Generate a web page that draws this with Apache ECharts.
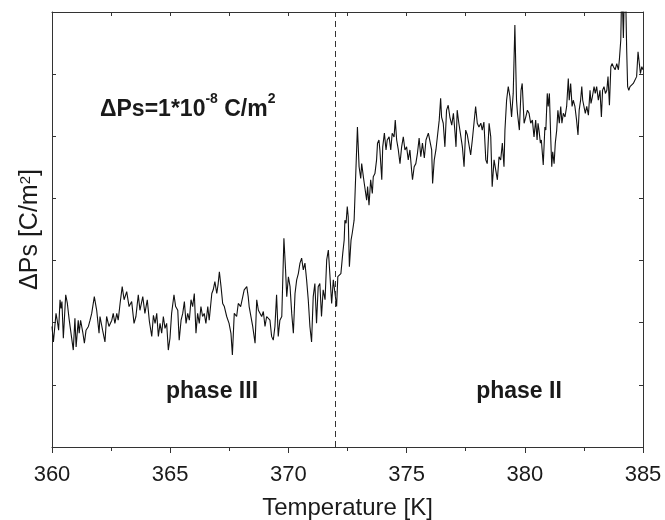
<!DOCTYPE html>
<html>
<head>
<meta charset="utf-8">
<script src="https://cdn.jsdelivr.net/npm/echarts@6/dist/echarts.min.js"></script>
<style>
html,body{margin:0;padding:0;background:#fff;}
#chart{width:665px;height:520px;}
</style>
</head>
<body>
<div id="chart"></div>
<script>
// Temperature (K) and ΔPs (arbitrary units, 1 unit = 1e-8 C/m^2 tick step)
var temperature = [
360.00,360.06,360.17,360.22,360.28,360.34,360.38,360.42,360.48,360.58,360.65,360.72,360.79,360.90,360.97,361.02,361.11,361.15,361.21,361.30,
361.37,361.44,361.54,361.61,361.68,361.79,361.89,361.99,362.03,362.14,362.24,362.31,362.41,362.53,362.59,362.66,362.74,362.80,362.88,362.97,
363.05,363.16,363.26,363.37,363.47,363.55,363.65,363.72,363.84,363.93,364.03,364.12,364.22,364.29,364.36,364.43,364.50,364.57,364.64,364.71,
364.78,364.85,364.92,364.99,365.06,365.16,365.23,365.32,365.38,365.46,365.53,365.60,365.67,365.74,365.81,365.88,365.95,366.02,366.09,366.16,
366.23,366.30,366.37,366.44,366.51,366.59,366.65,366.76,366.82,366.89,366.97,367.03,367.08,367.15,367.22,367.29,367.39,367.49,367.57,367.63,
367.71,367.81,367.88,367.98,368.07,368.13,368.24,368.30,368.34,368.41,368.49,368.59,368.66,368.73,368.80,368.87,368.94,369.01,369.08,369.15,
369.22,369.29,369.36,369.43,369.50,369.57,369.64,369.72,369.81,369.88,369.93,370.00,370.07,370.14,370.21,370.28,370.35,370.42,370.49,370.56,
370.63,370.70,370.77,370.84,370.91,370.98,371.05,371.12,371.19,371.26,371.33,371.40,371.47,371.55,371.62,371.69,371.76,371.83,371.90,371.97,
372.04,372.09,372.15,372.22,372.30,372.36,372.39,372.44,372.49,372.53,372.58,372.65,372.70,372.78,372.85,372.92,372.99,373.06,373.10,373.17,
373.21,373.27,373.31,373.35,373.41,373.48,373.55,373.59,373.66,373.73,373.77,373.83,373.87,373.95,373.99,374.06,374.13,374.18,374.26,374.33,
374.39,374.47,374.52,374.58,374.65,374.72,374.79,374.86,374.93,375.00,375.07,375.14,375.21,375.25,375.32,375.39,375.46,375.53,375.60,375.67,
375.75,375.82,375.92,375.99,376.06,376.10,376.17,376.24,376.31,376.38,376.44,376.48,376.55,376.62,376.69,376.76,376.83,376.91,376.98,377.05,
377.09,377.14,377.21,377.29,377.36,377.43,377.50,377.57,377.64,377.71,377.78,377.85,377.92,377.99,378.06,378.14,378.20,378.27,378.35,378.41,
378.49,378.56,378.62,378.70,378.77,378.84,378.91,378.98,379.05,379.12,379.16,379.23,379.30,379.37,379.44,379.51,379.58,379.65,379.69,379.77,
379.84,379.89,379.97,380.04,380.11,380.18,380.25,380.32,380.39,380.46,380.52,380.56,380.60,380.66,380.70,380.78,380.85,380.89,380.95,380.99,
381.04,381.10,381.14,381.18,381.24,381.29,381.35,381.40,381.46,381.52,381.57,381.63,381.70,381.77,381.84,381.88,381.94,382.00,382.05,382.12,
382.19,382.25,382.30,382.36,382.41,382.45,382.50,382.56,382.62,382.69,382.76,382.80,382.86,382.93,382.98,383.04,383.11,383.18,383.24,383.29,
383.35,383.41,383.47,383.52,383.58,383.64,383.69,383.75,383.82,383.89,383.96,384.00,384.06,384.10,384.14,384.17,384.21,384.27,384.31,384.35,
384.40,384.45,384.52,384.59,384.66,384.73,384.79,384.83,384.89,384.95,385.00
];
var deltaPs = [
1.94,1.69,2.15,2.04,1.88,2.37,2.23,2.34,1.75,2.45,2.31,2.07,2.04,1.56,2.07,1.61,2.04,1.83,2.04,1.85,
1.67,1.88,1.94,2.04,2.15,2.42,2.20,1.83,2.10,1.88,1.69,2.10,1.94,2.04,2.15,1.99,2.15,2.04,2.31,2.58,
2.37,2.50,2.26,2.34,1.99,2.10,2.45,2.20,2.42,2.15,2.37,2.02,1.78,2.12,1.99,2.15,1.78,1.99,1.83,2.10,
1.91,1.99,1.56,1.75,2.15,2.45,2.26,2.20,1.72,2.04,2.15,2.34,1.99,2.15,2.04,2.37,2.26,2.47,1.83,2.15,
1.99,2.26,2.10,2.15,1.99,2.26,2.04,2.47,2.53,2.66,2.47,2.63,2.82,2.58,2.31,2.26,2.10,1.99,1.83,1.48,
2.15,2.10,2.31,2.26,2.42,2.53,2.58,2.42,2.26,2.26,1.94,1.67,2.37,2.20,2.23,2.10,2.18,1.94,2.10,2.12,
2.04,1.78,1.72,1.94,2.45,1.78,2.04,2.10,3.36,2.85,2.42,2.74,2.58,2.15,1.83,2.47,2.69,2.79,2.96,3.04,
2.85,2.96,2.69,2.37,1.94,1.69,2.42,2.63,1.99,2.58,2.63,2.10,2.53,2.37,3.01,3.17,2.74,2.31,2.69,2.69,
2.26,2.74,2.74,2.79,3.12,3.33,3.65,3.60,3.87,3.71,2.90,3.33,3.44,3.65,4.40,5.15,4.51,4.32,4.56,4.35,
4.24,4.08,3.97,4.19,3.89,4.30,4.08,4.35,4.40,4.62,4.89,4.94,4.78,4.30,4.83,5.05,4.78,4.94,4.99,4.78,
5.05,4.99,5.26,4.94,4.78,4.56,4.83,4.99,4.78,4.83,4.62,4.78,4.46,4.30,4.51,4.56,4.73,4.97,4.67,4.89,
4.65,4.94,5.05,5.07,4.78,4.24,4.62,4.78,5.02,5.26,5.61,5.31,5.21,4.83,5.42,5.50,5.31,5.18,5.37,5.05,
4.83,5.42,5.21,5.18,4.83,4.51,5.10,5.02,4.99,4.70,4.94,5.21,5.48,5.21,5.15,5.21,5.10,5.23,4.62,4.56,
5.21,4.99,4.19,4.62,4.62,4.30,4.67,4.62,4.89,4.51,5.10,5.58,5.80,5.64,5.31,5.69,6.79,5.58,5.37,5.10,
5.74,5.85,5.21,5.31,5.42,5.37,5.21,5.26,4.99,5.26,4.94,5.21,5.10,4.89,4.94,4.54,5.15,5.10,5.69,5.48,
5.69,4.94,4.51,4.75,4.56,4.89,5.10,5.42,5.21,5.48,5.21,5.37,5.31,5.48,5.93,5.58,5.85,5.48,5.58,5.48,
5.26,5.02,5.42,5.58,5.80,5.58,5.58,5.37,5.48,5.34,5.74,5.53,5.64,5.80,5.69,5.80,5.58,5.74,5.31,5.74,
5.80,5.69,5.74,5.96,5.50,6.12,6.17,6.12,6.07,6.17,6.07,6.23,6.55,7.40,7.00,6.58,7.30,7.20,6.39,5.80,
5.74,5.80,5.80,5.85,5.88,5.96,6.36,6.33,6.01,6.12,6.07
];
var transitionT = 372;
var xRange = [360, 385];
var yRange = [0, 7];
var xAxisTitle = 'Temperature [K]';
var phaseLabels = ['phase III', 'phase II'];

var seriesData = temperature.map(function (t, i) { return [t, deltaPs[i]]; });

var FONT = '"Liberation Sans", Arial, Helvetica, sans-serif';
var TXT = '#1a1a1a';
var AX = '#333333';

var chart = echarts.init(document.getElementById('chart'), null, {renderer: 'canvas'});

function xAx(pos) {
  var bottom = pos === 'bottom';
  return {
    type: 'value', position: pos, min: xRange[0], max: xRange[1], interval: 5,
    axisLine: {show: true, onZero: false, lineStyle: {color: AX, width: 1}},
    axisTick: {show: true, inside: !bottom, length: bottom ? 6 : 4, lineStyle: {color: AX, width: 1}},
    minorTick: {show: true, splitNumber: 2, length: 4, lineStyle: {color: AX, width: 1}},
    axisLabel: {show: bottom, fontSize: 22, fontFamily: FONT, color: TXT, margin: 17},
    splitLine: {show: false},
    name: bottom ? xAxisTitle : '',
    nameLocation: 'middle', nameGap: 49,
    nameTextStyle: {fontSize: 24, fontFamily: FONT, color: TXT}
  };
}
function yAx(pos) {
  var left = pos === 'left';
  return {
    type: 'value', position: pos, min: yRange[0], max: yRange[1], interval: 1,
    axisLine: {show: true, onZero: false, lineStyle: {color: AX, width: 1}},
    axisTick: {show: true, inside: true, length: 4, lineStyle: {color: AX, width: 1}},
    axisLabel: {show: false},
    splitLine: {show: false},
    name: left ? '{a|ΔPs [C/m}{s|2}{a|]}' : '',
    nameLocation: 'middle', nameGap: 9, nameRotate: 90,
    nameTextStyle: {
      rich: {
        a: {fontSize: 25, fontFamily: FONT, color: TXT},
        s: {fontSize: 15, fontFamily: FONT, color: TXT, verticalAlign: 'top'}
      }
    }
  };
}

chart.setOption({
  animation: false,
  backgroundColor: '#ffffff',
  grid: {left: 52, right: 22, top: 12, bottom: 73, containLabel: false, outerBoundsMode: 'none'},
  xAxis: [xAx('bottom'), xAx('top')],
  yAxis: [yAx('left'), yAx('right')],
  series: [{
    type: 'line',
    data: seriesData,
    xAxisIndex: 0, yAxisIndex: 0,
    showSymbol: false, symbol: 'none',
    clip: true,
    lineStyle: {color: '#111111', width: 1.1},
    markLine: {
      silent: true,
      symbol: ['none', 'none'],
      label: {show: false},
      lineStyle: {color: AX, width: 1, type: [6, 4]},
      data: [{xAxis: transitionT}]
    }
  }],
  graphic: [
    {
      type: 'text', left: 100, top: 92,
      style: {
        text: '{a|ΔPs=1*10}{s|-8}{a| C/m}{s|2}',
        rich: {
          a: {fontSize: 23, fontWeight: 'bold', fontFamily: FONT, fill: TXT, lineHeight: 29, verticalAlign: 'bottom'},
          s: {fontSize: 14, fontWeight: 'bold', fontFamily: FONT, fill: TXT, lineHeight: 16, verticalAlign: 'top'}
        }
      }
    },
    {
      type: 'text', x: 212, y: 392,
      style: {text: phaseLabels[0], font: 'bold 23px ' + FONT, fill: TXT, align: 'center', verticalAlign: 'middle'}
    },
    {
      type: 'text', x: 519, y: 392,
      style: {text: phaseLabels[1], font: 'bold 23px ' + FONT, fill: TXT, align: 'center', verticalAlign: 'middle'}
    }
  ]
});
</script>
</body>
</html>
